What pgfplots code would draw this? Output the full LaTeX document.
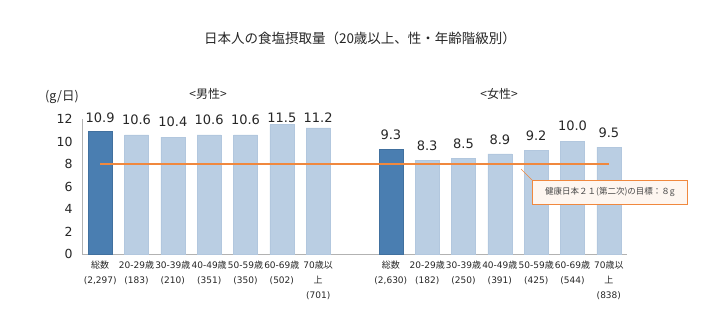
\documentclass[border=0pt]{standalone}
\usepackage{fontspec}
\setmainfont{DejaVu Sans}
\newfontfamily\jp{Noto Sans CJK JP}
\newcommand\J[1]{{\jp #1}}
\usepackage{pgfplots}
\usepackage{pgfplotstable}
\pgfplotsset{compat=1.18}
\definecolor{dbar}{HTML}{4A7EB1}
\definecolor{dbarb}{HTML}{41709E}
\definecolor{lbar}{HTML}{BACEE3}
\definecolor{lbarb}{HTML}{B2C7DE}
\definecolor{org}{HTML}{F0883E}
\definecolor{boxfill}{HTML}{FEF6F0}
\definecolor{txt}{HTML}{262626}

\pgfplotstableread{
x  v     ly
0  10.9  12.15
1  10.6  11.91
2  10.4  11.71
3  10.6  11.91
4  10.6  11.91
5  11.5  12.06
6  11.2  12.12
8  9.3   10.58
9  8.3   9.63
10 8.5   9.84
11 8.9   10.13
12 9.2   10.49
13 10.0  11.41
14 9.5   10.81
}\labels

\begin{document}
\begin{tikzpicture}[x=1bp,y=1bp]
\useasboundingbox (0,0) rectangle (720,327);
\begin{axis}[
  at={(82bp,73bp)}, anchor=south west, scale only axis,
  width=545bp, height=135bp,
  xmin=-0.5, xmax=14.5, ymin=0, ymax=12,
  clip=false,
  axis x line*=bottom, axis y line*=left,
  axis line style={draw=gray!60, line width=0.8pt, -},
  major tick length=0pt,
  ytick={0,2,...,12},
  yticklabel style={font=\fontsize{12.5bp}{14bp}\selectfont, text=txt, xshift=-6bp},
  /pgf/number format/assume math mode=true,
  xtick={0,1,2,3,4,5,6,8,9,10,11,12,13,14},
  xticklabels={
    {\J{総数}\\(2,297)},{20-29\J{歳}\\(183)},{30-39\J{歳}\\(210)},{40-49\J{歳}\\(351)},{50-59\J{歳}\\(350)},{60-69\J{歳}\\(502)},{70\J{歳以}\\\J{上}\\(701)},
    {\J{総数}\\(2,630)},{20-29\J{歳}\\(182)},{30-39\J{歳}\\(250)},{40-49\J{歳}\\(391)},{50-59\J{歳}\\(425)},{60-69\J{歳}\\(544)},{70\J{歳以}\\\J{上}\\(838)}
  },
  xticklabel style={align=center, anchor=north, yshift=-3bp, text=txt,
    font=\fontsize{9bp}{15bp}\selectfont},
]
\addplot[ybar, bar width=24bp, bar shift=0pt, fill=dbar, draw=dbarb] coordinates {(0,10.9)};
\addplot[ybar, bar width=24bp, bar shift=0pt, fill=lbar, draw=lbarb] coordinates {(1,10.6) (2,10.4) (3,10.6) (4,10.6) (5,11.5) (6,11.2)};
\addplot[ybar, bar width=24bp, bar shift=0pt, fill=dbar, draw=dbarb] coordinates {(8,9.3)};
\addplot[ybar, bar width=24bp, bar shift=0pt, fill=lbar, draw=lbarb] coordinates {(9,8.3) (10,8.5) (11,8.9) (12,9.2) (13,10.0) (14,9.5)};
\addplot[org, line width=1.2pt, mark=none] coordinates {(0,8) (14,8)};
\addplot[draw=none, mark=none, point meta=explicit,
  nodes near coords={\pgfmathprintnumber[fixed,fixed zerofill,precision=1]{\pgfplotspointmeta}},
  every node near coord/.append style={anchor=center, text=txt, font=\fontsize{13bp}{14bp}\selectfont}]
  table[x=x, y=ly, meta=v] {\labels};
\end{axis}
\node[font=\jp\fontsize{13.5bp}{16bp}\selectfont, text=txt] at (360,289) {日本人の食塩摂取量（20歳以上、性・年齢階級別）};
\node[font=\jp\fontsize{12.5bp}{14bp}\selectfont, text=txt] at (62,230) {(g/日)};
\node[font=\jp\fontsize{12bp}{14bp}\selectfont, text=txt] at (208,233) {<男性>};
\node[font=\jp\fontsize{12bp}{14bp}\selectfont, text=txt] at (499,233) {<女性>};
\draw[org, line width=0.7pt] (521,158) -- (532,147);
\node[draw=org, fill=boxfill, line width=0.8pt, minimum width=155bp, minimum height=24bp, anchor=north west, inner sep=0pt,
  font=\jp\fontsize{8.5bp}{10bp}\selectfont, text=txt!85] at (532,147) {健康日本２１(第二次)の目標：８g};
\end{tikzpicture}
\end{document}
